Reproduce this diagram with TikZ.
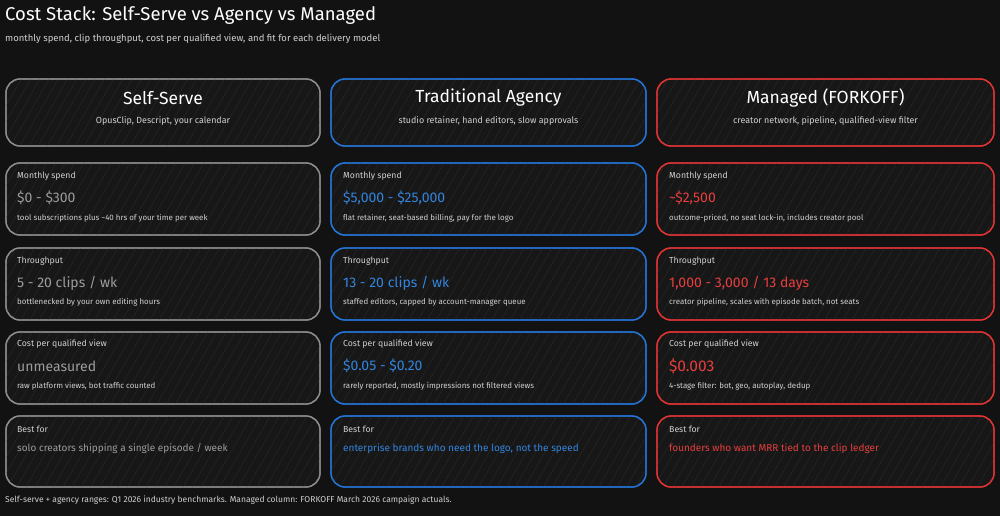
\documentclass[tikz,border=0pt]{standalone}
\usepackage{fontspec}
\setmainfont{Fira Sans}
\usetikzlibrary{patterns.meta}
\definecolor{bg}{HTML}{121212}
\definecolor{cardfill}{HTML}{171717}
\definecolor{hatch}{HTML}{252525}
\definecolor{cgray}{HTML}{8C8C8C}
\definecolor{cblue}{HTML}{2474D6}
\definecolor{cred}{HTML}{E03434}
\definecolor{vgray}{HTML}{9C9C9C}
\definecolor{vblue}{HTML}{3385DD}
\definecolor{vred}{HTML}{E83E3E}
\definecolor{lbl}{HTML}{D0D0D0}
\begin{document}
\begin{tikzpicture}[x=1pt,y=-1pt,
  card/.style={rounded corners=14pt,line width=1.3pt,fill=cardfill},
  hatchbox/.style={rounded corners=14pt,pattern={Lines[angle=60,distance=8pt,line width=0.6pt]},pattern color=hatch},
  lab/.style={anchor=west,text=lbl,font=\fontsize{8.7}{10}\selectfont,inner sep=0},
  val/.style={anchor=west,font=\fontsize{14}{16}\selectfont,inner sep=0},
  note/.style={anchor=west,text=lbl,font=\fontsize{7.9}{9}\selectfont,inner sep=0},
  htitle/.style={anchor=center,text=white,font=\fontsize{17.5}{20}\selectfont,inner sep=0},
  hsub/.style={anchor=center,text=lbl,font=\fontsize{8.9}{10}\selectfont,inner sep=0}]
\fill[bg] (0,0) rectangle (1000,516);
\node[anchor=west,text=white,font=\fontsize{18.5}{21}\selectfont,inner sep=0] (title) at (5,16) {Cost Stack: Self-Serve vs Agency vs Managed};
\node[anchor=west,text=lbl,font=\fontsize{9.5}{11}\selectfont,inner sep=0] (sub) at (5,39) {monthly spend, clip throughput, cost per qualified view, and fit for each delivery model};
\node[anchor=west,text=lbl,font=\fontsize{8.5}{10}\selectfont,inner sep=0] (foot) at (5,500) {Self-serve + agency ranges: Q1 2026 industry benchmarks. Managed column: FORKOFF March 2026 campaign actuals.};
\foreach \xa/\xb/\bc in {6/320/cgray,331/646/cblue,657/994/cred}{
  \foreach \ya/\yb in {79/146,163/235,248/320,332/404,416/487}{
    \draw[card,draw=\bc] (\xa,\ya) rectangle (\xb,\yb);
    \fill[hatchbox] (\xa,\ya) rectangle (\xb,\yb);
    \draw[rounded corners=14pt,line width=1.3pt,draw=\bc] (\xa,\ya) rectangle (\xb,\yb);
  }
}
% headers
\node[htitle] (h1) at (163,98) {Self-Serve};
\node[hsub] (h1s) at (163,121) {OpusClip, Descript, your calendar};
\node[htitle] (h2) at (488.5,98) {Traditional Agency};
\node[hsub] (h2s) at (488.5,121) {studio retainer, hand editors, slow approvals};
\node[htitle] (h3) at (825.5,98) {Managed (FORKOFF)};
\node[hsub] (h3s) at (825.5,121) {creator network, pipeline, qualified-view filter};
% column 1
\node[lab] (a1l) at (17,176) {Monthly spend};
\node[val,text=vgray] (a1v) at (17,198) {\$0 - \$300};
\node[note] (a1n) at (17,218) {tool subscriptions plus \textasciitilde40 hrs of your time per week};
\node[lab] (a2l) at (17,261) {Throughput};
\node[val,text=vgray] (a2v) at (17,283) {5 - 20 clips / wk};
\node[note] (a2n) at (17,302) {bottlenecked by your own editing hours};
\node[lab] (a3l) at (17,344) {Cost per qualified view};
\node[val,text=vgray] (a3v) at (17,366) {unmeasured};
\node[note] (a3n) at (17,386) {raw platform views, bot traffic counted};
\node[lab] (a4l) at (17,429) {Best for};
\node[val,text=vgray,font=\fontsize{10}{12}\selectfont] (a4v) at (17,449) {solo creators shipping a single episode / week};
% column 2
\node[lab] (b1l) at (343,176) {Monthly spend};
\node[val,text=vblue] (b1v) at (343,198) {\$5,000 - \$25,000};
\node[note] (b1n) at (343,218) {flat retainer, seat-based billing, pay for the logo};
\node[lab] (b2l) at (343,261) {Throughput};
\node[val,text=vblue] (b2v) at (343,283) {13 - 20 clips / wk};
\node[note] (b2n) at (343,302) {staffed editors, capped by account-manager queue};
\node[lab] (b3l) at (343,344) {Cost per qualified view};
\node[val,text=vblue] (b3v) at (343,366) {\$0.05 - \$0.20};
\node[note] (b3n) at (343,386) {rarely reported, mostly impressions not filtered views};
\node[lab] (b4l) at (343,429) {Best for};
\node[val,text=vblue,font=\fontsize{10}{12}\selectfont] (b4v) at (343,449) {enterprise brands who need the logo, not the speed};
% column 3
\node[lab] (c1l) at (669,176) {Monthly spend};
\node[val,text=vred] (c1v) at (669,198) {\textasciitilde\$2,500};
\node[note] (c1n) at (669,218) {outcome-priced, no seat lock-in, includes creator pool};
\node[lab] (c2l) at (669,261) {Throughput};
\node[val,text=vred] (c2v) at (669,283) {1,000 - 3,000 / 13 days};
\node[note] (c2n) at (669,302) {creator pipeline, scales with episode batch, not seats};
\node[lab] (c3l) at (669,344) {Cost per qualified view};
\node[val,text=vred,font=\fontsize{15.5}{17}\selectfont] (c3v) at (669,366) {\$0.003};
\node[note] (c3n) at (669,386) {4-stage filter: bot, geo, autoplay, dedup};
\node[lab] (c4l) at (669,429) {Best for};
\node[val,text=vred,font=\fontsize{10}{12}\selectfont] (c4v) at (669,449) {founders who want MRR tied to the clip ledger};
\end{tikzpicture}
\end{document}
